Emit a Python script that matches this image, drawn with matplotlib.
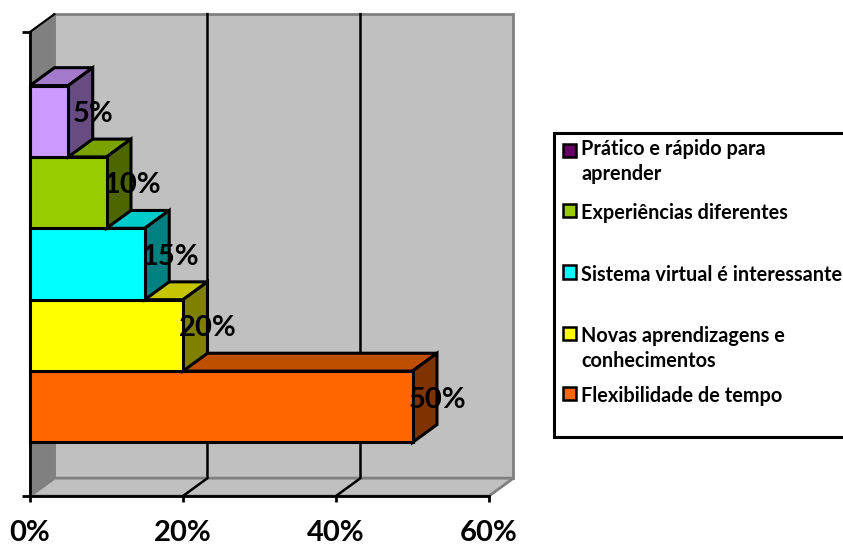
import matplotlib
matplotlib.use('Agg')
import matplotlib.pyplot as plt
from matplotlib.patches import Polygon, Rectangle

plt.rcParams['font.family'] = ['Lato', 'DejaVu Sans']
plt.rcParams['font.weight'] = 'bold'

# bottom to top, as the bars are stacked in the chart
values = [50, 20, 15, 10, 5]
labels = ['50%', '20%', '15%', '10%', '5%']
front_colors = ['#FF6600', '#FFFF00', '#00FFFF', '#99CC00', '#CC99FF']
top_colors = ['#BF4F00', '#C4C400', '#00CCCC', '#7AA300', '#A37ACC']
side_colors = ['#803300', '#808000', '#008080', '#4D6600', '#664C80']

x_ticks = [0, 20, 40, 60]
x_tick_labels = ['0%', '20%', '40%', '60%']

legend_names = ['Prático e rápido para\naprender', 'Experiências diferentes',
                'Sistema virtual é interessante', 'Novas aprendizagens e\nconhecimentos',
                'Flexibilidade de tempo']
legend_colors = ['#660066', '#99CC00', '#00FFFF', '#FFFF00', '#FF6600']

# legend layout, in pixels from the top
legend_text_y = [161.5, 213.5, 275.5, 348.5, 395.5]
legend_box_y = [150, 211, 272, 333, 393]

W, H = 843, 545
WALL = '#C0C0C0'
SIDE = '#808080'
EDGE = '#808080'

fig = plt.figure(figsize=(W / 100, H / 100), dpi=100)
ax = fig.add_axes([30 / W, 1 - 496 / H, 459 / W, 464 / H])
ax.set_xlim(0, 60)
ax.set_ylim(-1.25, 5.25)
ax.patch.set_visible(False)

# depth of the fake 3d box, in data units
dx = 3.2
dy = 0.25
y0, y1 = -1.25, 5.25


def poly(pts, color, edge='black', lw=2.2, z=2):
    p = Polygon(pts, closed=True, facecolor=color, edgecolor=edge, linewidth=lw,
                joinstyle='miter', clip_on=False, zorder=z)
    ax.add_patch(p)


# walls and floor
poly([(dx, y0 + dy), (60 + dx, y0 + dy), (60 + dx, y1 + dy), (dx, y1 + dy)], WALL, EDGE, 2, 1)
poly([(0, y0), (dx, y0 + dy), (dx, y1 + dy), (0, y1)], SIDE, EDGE, 1.5, 1)
poly([(0, y0), (60, y0), (60 + dx, y0 + dy), (dx, y0 + dy)], WALL, EDGE, 2, 1)

# gridlines on floor and back wall
for t in x_ticks[1:3]:
    ax.plot([t, t + dx, t + dx], [y0, y0 + dy, y1 + dy], color='black', lw=1.8,
            clip_on=False, zorder=1.5, solid_joinstyle='miter')
ax.plot([0, dx], [y1, y1 + dy], color='black', lw=1.5, clip_on=False, zorder=1.5)

# bars, lowest first so that the upper ones sit on top
for i, v in enumerate(values):
    b, t = i - 0.5, i + 0.5
    z = 2 + i * 0.1
    poly([(0, t), (v, t), (v + dx, t + dy), (dx, t + dy)], top_colors[i], z=z)
    poly([(v, b), (v + dx, b + dy), (v + dx, t + dy), (v, t)], side_colors[i], z=z)
    poly([(0, b), (v, b), (v, t), (0, t)], front_colors[i], z=z)

# value labels
for i, v in enumerate(values):
    ax.text(v + dx + 0.1, i + 0.1, labels[i], ha='center', va='center', fontsize=21,
            fontweight='bold', color='black', zorder=5, clip_on=False)

for s in ['top', 'right']:
    ax.spines[s].set_visible(False)
for s in ['left', 'bottom']:
    ax.spines[s].set_linewidth(2)
    ax.spines[s].set_zorder(1.8)
ax.set_xticks(x_ticks)
ax.set_xticklabels(x_tick_labels, fontsize=21, fontweight='bold')
ax.set_yticks([y0, y1])
ax.set_yticklabels([])
ax.tick_params(axis='x', length=4.5, width=2, pad=12.5)
ax.tick_params(axis='y', length=6, width=2)

# legend box runs off the right edge like the source
fig.add_artist(Rectangle((554 / W, 1 - 437 / H), 300 / W, 304 / H, transform=fig.transFigure,
                         facecolor='white', edgecolor='black', linewidth=2.2))
for name, col, ty, by in zip(legend_names, legend_colors, legend_text_y, legend_box_y):
    fig.add_artist(Rectangle((563 / W, 1 - (by + 6.5) / H), 13 / W, 13 / H,
                             transform=fig.transFigure, facecolor=col,
                             edgecolor='black', linewidth=1.8))
    fig.text(581 / W, 1 - ty / H, name, ha='left', va='center', fontsize=14.3,
             fontweight='bold', linespacing=1.3, color='black')

fig.savefig('out.png', dpi=100)
